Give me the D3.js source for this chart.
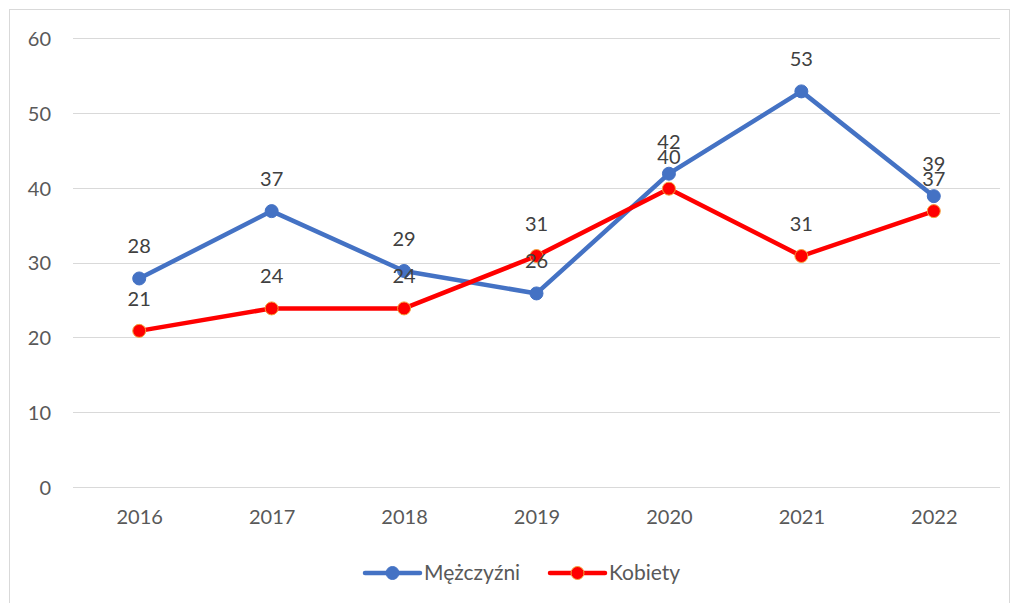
<!DOCTYPE html>
<html><head><meta charset="utf-8">
<script src="https://cdn.jsdelivr.net/npm/d3@7"></script>
<style>body{margin:0;background:#fff}svg{display:block}</style>
</head><body>
<script>
const years = ["2016","2017","2018","2019","2020","2021","2022"];
const men = [28,37,29,26,42,53,39];
const women = [21,24,24,31,40,31,37];
const yTicks = [0,10,20,30,40,50,60];
const seriesNames = ["Mężczyźni","Kobiety"];

const W=1018,H=603;
const font="Lato, 'Open Sans', sans-serif";
const fs=20;
const svg=d3.select("body").append("svg").attr("width",W).attr("height",H);
svg.append("rect").attr("x",9.5).attr("y",9.5).attr("width",1000).attr("height",620)
  .attr("fill","#fff").attr("stroke","#d9d9d9").attr("stroke-width",1);

const x=d3.scalePoint().domain(years).range([73,1000]).padding(0.5);
const y=d3.scaleLinear().domain([0,60]).range([488,39]);

const grid=svg.append("g");
grid.selectAll("line").data(yTicks).join("line")
  .attr("x1",73).attr("x2",1000).attr("y1",d=>Math.round(y(d))-0.5).attr("y2",d=>Math.round(y(d))-0.5)
  .attr("stroke","#d9d9d9").attr("stroke-width",1);

const yAxis=svg.append("g").attr("transform","translate(73,0)")
  .call(d3.axisLeft(y).tickValues(yTicks).tickSize(0).tickPadding(22));
yAxis.select(".domain").remove();
yAxis.selectAll("text").attr("font-family",font).attr("font-size",fs).attr("fill","#595959");

const xAxis=svg.append("g").attr("transform","translate(0,487)")
  .call(d3.axisBottom(x).tickSize(0).tickPadding(23));
xAxis.select(".domain").remove();
xAxis.selectAll("text").attr("font-family",font).attr("font-size",fs).attr("fill","#595959");

const series=[
  {name:seriesNames[0],vals:men,color:"#4472C4",mstroke:"#4472C4"},
  {name:seriesNames[1],vals:women,color:"#FF0000",mstroke:"#F4A13A"}
];
const line=d3.line().x((d,i)=>x(years[i])).y(d=>y(d));
series.forEach(s=>{
  svg.append("path").datum(s.vals).attr("d",line).attr("fill","none")
    .attr("stroke",s.color).attr("stroke-width",4.5).attr("stroke-linejoin","round").attr("stroke-linecap","round");
});
series.forEach(s=>{
  svg.append("g").selectAll("circle").data(s.vals).join("circle")
    .attr("cx",(d,i)=>x(years[i])).attr("cy",d=>y(d)).attr("r",6.5)
    .attr("fill",s.color).attr("stroke",s.mstroke).attr("stroke-width",1);
});
series.forEach(s=>{
  svg.append("g").selectAll("text").data(s.vals).join("text")
    .attr("x",(d,i)=>x(years[i])).attr("y",d=>y(d)-25)
    .attr("text-anchor","middle").attr("font-family",font).attr("font-size",fs).attr("fill","#404040")
    .text(d=>d);
});

// legend
const leg=[{x:365,s:series[0]},{x:550,s:series[1]}];
leg.forEach(l=>{
  const g=svg.append("g");
  g.append("line").attr("x1",l.x).attr("x2",l.x+55).attr("y1",573).attr("y2",573)
    .attr("stroke",l.s.color).attr("stroke-width",4.5).attr("stroke-linecap","round");
  g.append("circle").attr("cx",l.x+27.5).attr("cy",573).attr("r",6.5)
    .attr("fill",l.s.color).attr("stroke",l.s.mstroke).attr("stroke-width",1);
  g.append("text").attr("x",l.x+59).attr("y",573).attr("dy","0.35em")
    .attr("font-family",font).attr("font-size",fs + 1).attr("fill","#595959").text(l.s.name);
});
</script>
</body></html>
